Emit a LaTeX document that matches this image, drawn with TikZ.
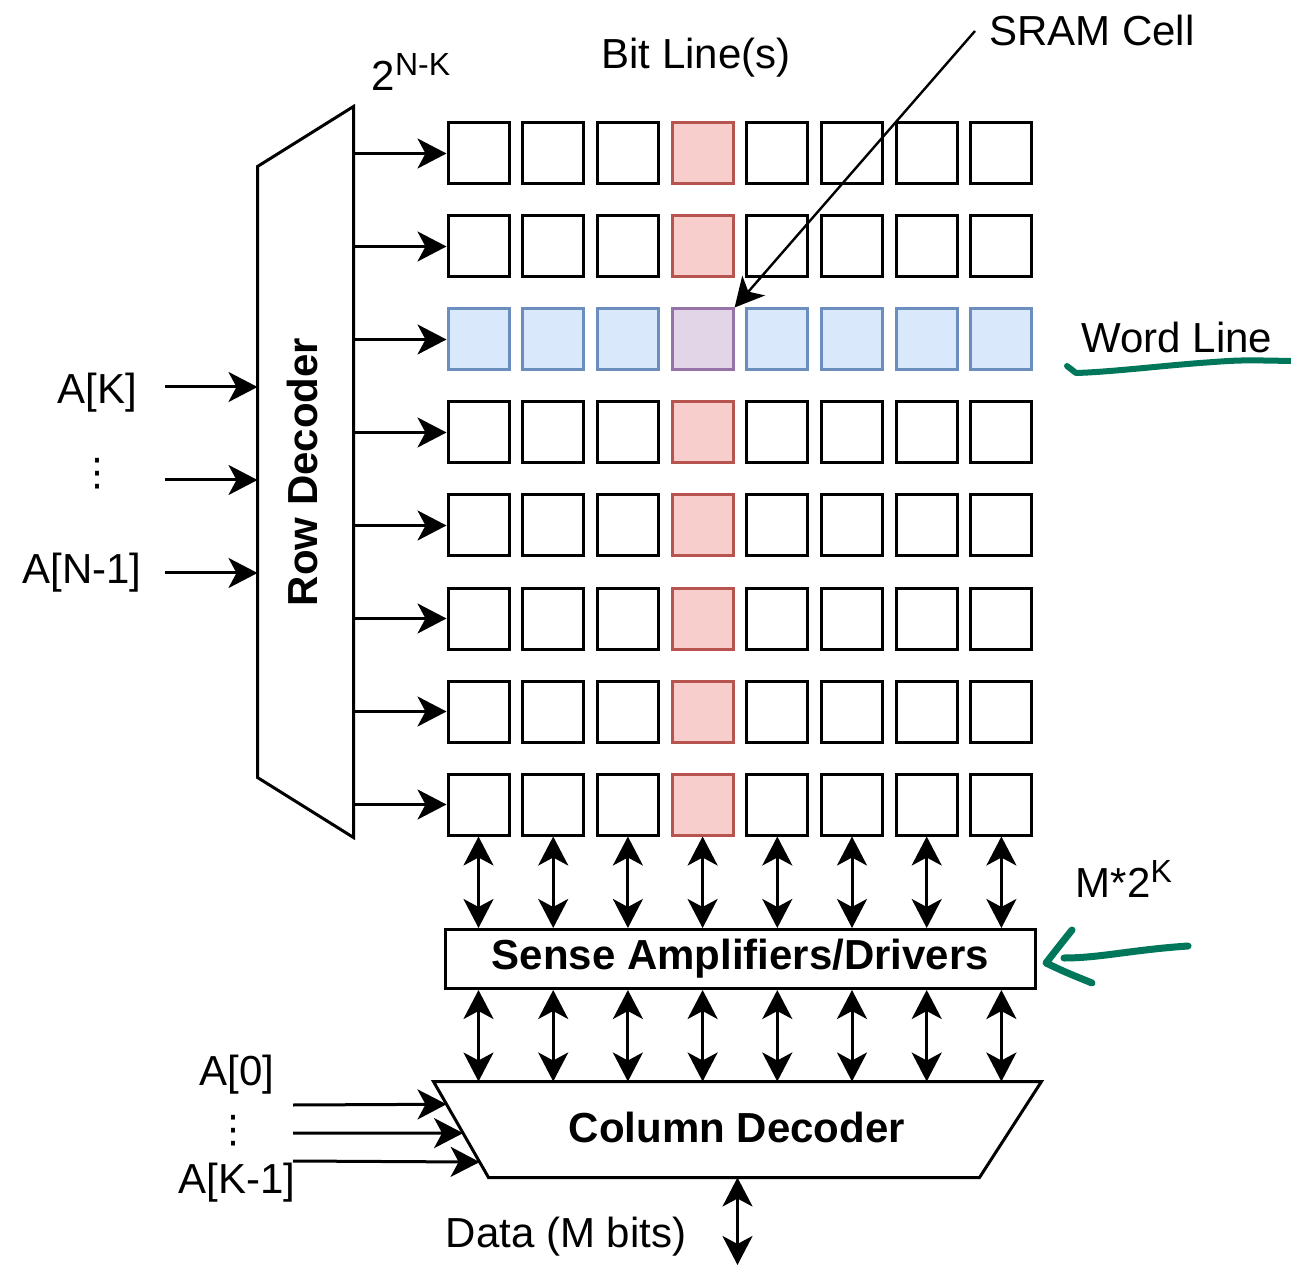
\documentclass[tikz,border=0pt]{standalone}
\usepackage{fontspec}
\setmainfont{Liberation Sans}
\newfontfamily\symfont{DejaVu Sans}
\usetikzlibrary{arrows.meta,calc}

\definecolor{redfill}{HTML}{F8CECC}
\definecolor{redline}{HTML}{B85450}
\definecolor{bluefill}{HTML}{DAE8FC}
\definecolor{blueline}{HTML}{6C8EBF}
\definecolor{purplefill}{HTML}{E1D5E7}
\definecolor{purpleline}{HTML}{9673A6}
\definecolor{penink}{HTML}{00765A}

\newcommand\basesize{\fontsize{21}{25}\selectfont}
\newcommand\supscr[1]{\raisebox{7.5pt}{\fontsize{16}{18}\selectfont #1}}

\tikzset{
  cell/.style={draw, line width=1.5pt, minimum size=30.5pt, inner sep=0pt},
  tip/.tip={Stealth[length=14.5pt,width=15pt,inset=4pt]},
  arr/.style={-tip},
  darr/.style={tip-tip},
  txt/.style={inner sep=0pt, font=\basesize},
  dotstack/.style={inner sep=0pt, font=\symfont\fontsize{19}{22}\selectfont},
  boldtxt/.style={inner sep=0pt, font=\basesize\bfseries},
  hand/.style={draw=penink, line width=3pt, line cap=round, line join=round}
}

\begin{document}
\begin{tikzpicture}[x=0.5pt, y=-0.5pt, line width=1.5pt]
\useasboundingbox (0,0) rectangle (1291,1267);

% memory array: 8 x 8 cells, selected column red, word line blue
\foreach \r in {0,...,7}{
  \foreach \c in {0,...,7}{
    \def\dc{black}\def\fc{white}
    \ifnum\c=3 \def\dc{redline}\def\fc{redfill}\fi
    \ifnum\r=2 \def\dc{blueline}\def\fc{bluefill}%
      \ifnum\c=3 \def\dc{purpleline}\def\fc{purplefill}\fi\fi
    \node[cell, draw=\dc, fill=\fc] (c-\r-\c) at ({478.5+74.7*\c},{153.5+93*\r}) {};
  }
}

% row decoder
\node[minimum width=46.5pt, minimum height=364pt, inner sep=0pt] (rdbox) at (305.5,472) {};
\draw ($(rdbox.north west)+(0,60)$) -- (rdbox.north east) -- (rdbox.south east)
      -- ($(rdbox.south west)+(0,-60)$) -- cycle;
\node[boldtxt, rotate=90] (rdlabel) at (302,472) {Row Decoder};
\foreach \r in {0,...,7}{
  \draw[arr] (rdbox.east |- c-\r-0.west) -- (c-\r-0.west);
}

% row address inputs
\coordinate (in1) at (165,387);
\coordinate (in2) at (165,480);
\coordinate (in3) at (165,573);
\foreach \i in {1,2,3}{
  \draw[arr] (in\i) -- (rdbox.west |- in\i);
}
\node[txt] (lak) at (97,393) {A[K]};
\node[dotstack] (ldots1) at (97,474) {⋮};
\node[txt] (lan) at (82,573) {A[N-1]};

% sense amplifiers
\node[draw, minimum width=295pt, minimum height=29.5pt, inner sep=0pt, font=\basesize\bfseries]
  (sa) at (740.5,959) {Sense Amplifiers/Drivers};

% column decoder
\node[minimum width=302.5pt, minimum height=46.5pt, inner sep=0pt] (cdbox) at (737.5,1129.5) {};
\coordinate (cdbl) at ($(cdbox.south west)+(55,0)$);
\coordinate (cdbr) at ($(cdbox.south east)+(-62,0)$);
\draw (cdbox.north west) -- (cdbox.north east) -- (cdbr) -- (cdbl) -- cycle;
\node[boldtxt] (cdlabel) at (737,1127) {Column Decoder};

% bit lines between array, sense amplifiers and column decoder
\foreach \c in {0,...,7}{
  \draw[darr] (c-7-\c.south) -- (sa.north -| c-7-\c);
  \draw[darr] (sa.south -| c-7-\c) -- (cdbox.north -| c-7-\c);
}

% column address inputs
\coordinate (ik0) at (293,1105);
\coordinate (ik1) at (293,1133);
\coordinate (ik2) at (293,1161);
\draw[arr] (ik0) -- ($(cdbox.north west)!0.237!(cdbl)$);
\draw[arr] (ik1) -- ($(cdbox.north west)!0.538!(cdbl)$);
\draw[arr] (ik2) -- ($(cdbox.north west)!0.839!(cdbl)$);
\node[txt] (la0) at (237,1075) {A[0]};
\node[dotstack] (ldots2) at (233,1131) {⋮};
\node[txt] (lak1) at (237,1183) {A[K-1]};

% data port
\coordinate (dataend) at (737.5,1265);
\draw[darr] (cdbox.south) -- (dataend);
\node[txt] (ldata) at (566,1237) {Data (M bits)};

% annotations
\node[txt] (lnk) at (411,72) {2\supscr{N-K}};
\node[txt] (lbit) at (696,58) {Bit Line(s)};
\node[txt] (lsram) at (1092,30) {SRAM Cell};
\coordinate (sramtail) at (975,31);
\draw[arr, line width=1.2pt] (sramtail) -- (c-2-3.north east);
\node[txt] (lword) at (1177,337) {Word Line};
\node[txt] (lmk) at (1124,879) {M*2\supscr{K}};

% hand-drawn marks
\draw[hand] (1067,366) -- (1076,373) .. controls (1110,372) and (1160,366) .. (1200,363)
      .. controls (1240,360) .. (1291,361);
\draw[hand, line width=3.5pt] (1188,946) .. controls (1130,950) and (1100,958) .. (1064,958);
\draw[hand, line width=3.5pt] (1072,930) .. controls (1060,945) .. (1046,963)
      .. controls (1065,972) .. (1092,983);
\end{tikzpicture}
\end{document}
